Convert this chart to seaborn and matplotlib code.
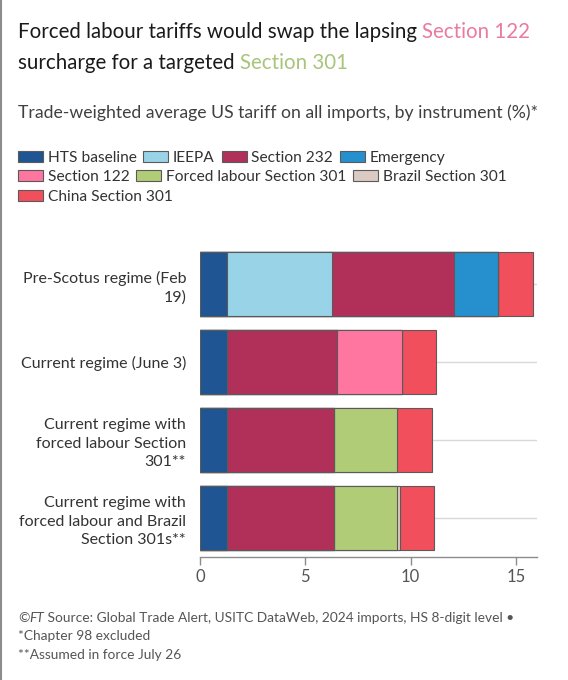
import numpy as np
import pandas as pd
import matplotlib
matplotlib.use("Agg")
import matplotlib.pyplot as plt
import matplotlib.patches as mpatches
import seaborn as sns

# Data
regimes = [
    "Pre-Scotus regime (Feb\n19)",
    "Current regime (June 3)",
    "Current regime with\nforced labour Section\n301**",
    "Current regime with\nforced labour and Brazil\nSection 301s**",
]
instruments = ["HTS baseline", "IEEPA", "Section 232", "Emergency",
               "Section 122", "Forced labour Section 301", "Brazil Section 301",
               "China Section 301"]
hts_baseline = [1.28, 1.28, 1.28, 1.28]
ieepa = [4.98, 0.0, 0.0, 0.0]
section_232 = [5.82, 5.22, 5.10, 5.10]
emergency = [2.09, 0.0, 0.0, 0.0]
section_122 = [0.0, 3.10, 0.0, 0.0]
forced_labour_301 = [0.0, 0.0, 2.99, 2.99]
brazil_301 = [0.0, 0.0, 0.0, 0.13]
china_301 = [1.63, 1.59, 1.64, 1.61]

colors = ["#1f5592", "#98d3e8", "#b03059", "#2590cd",
          "#ff77a1", "#b0cc76", "#d9cbc1", "#f24f5d"]

df = pd.DataFrame({
    "regime": regimes,
    "HTS baseline": hts_baseline,
    "IEEPA": ieepa,
    "Section 232": section_232,
    "Emergency": emergency,
    "Section 122": section_122,
    "Forced labour Section 301": forced_labour_301,
    "Brazil Section 301": brazil_301,
    "China Section 301": china_301,
})
cum = df[instruments].cumsum(axis=1)
cum["regime"] = df["regime"]

sns.set_theme(style="white")
plt.rcParams["font.family"] = ["Lato", "DejaVu Sans"]

W, H = 568, 680
fig = plt.figure(figsize=(W / 100, H / 100), dpi=100)
fig.patch.set_facecolor("white")


def fx(px):
    return px / W


def fy(py):
    return 1 - py / H


ax = fig.add_axes([fx(200), fy(557), fx(537) - fx(200), fy(245) - fy(557)])

# stacked bars: draw cumulative totals from longest to shortest
for name, col in reversed(list(zip(instruments, colors))):
    sns.barplot(data=cum, x=name, y="regime", orient="h", color=col,
                edgecolor="#5a5a5a", linewidth=0.8, width=0.81,
                saturation=1, ax=ax, zorder=3)

ax.set_xlim(0, 16)
ax.set_xticks([0, 5, 10, 15])
ax.set_xlabel("")
ax.set_ylabel("")
ax.grid(axis="y", color="#d9d9d9", linewidth=1, zorder=0)
ax.grid(axis="x", visible=False)
ax.set_axisbelow(True)
for s in ["top", "right", "left"]:
    ax.spines[s].set_visible(False)
ax.spines["bottom"].set_color("#8c8c8c")
ax.spines["bottom"].set_linewidth(1)
ax.tick_params(axis="x", bottom=True, length=6, width=1, color="#8c8c8c",
               labelsize=12, labelcolor="#555555", pad=3)
ax.tick_params(axis="y", left=False, length=0, labelsize=11.5, labelcolor="#333333",
               pad=10)
for lbl in ax.get_yticklabels():
    lbl.set_linespacing(1.42)

# title with coloured key words
fig.canvas.draw()
renderer = fig.canvas.get_renderer()


def colored_line(parts, x, y, size):
    for txt, col, st in parts:
        t = fig.text(x, y, txt, color=col, fontsize=size, va="center", ha="left",
                     style=st)
        bb = t.get_window_extent(renderer=renderer)
        x = x + bb.width / W


colored_line([("Forced labour tariffs would swap the lapsing ", "#1a1a1a", "normal"),
              ("Section 122", "#ea7aa0", "normal")], fx(18), fy(32), 14.8)
colored_line([("surcharge for a targeted ", "#1a1a1a", "normal"),
              ("Section 301", "#a9c47c", "normal")], fx(18), fy(63), 14.8)

fig.text(fx(18), fy(113), "Trade-weighted average US tariff on all imports, by instrument (%)*",
         color="#404040", fontsize=12.7, va="center", ha="left")

# legend in three flowing rows
rows = [[0, 1, 2, 3], [4, 5, 6], [7]]
row_y = [158, 177, 197]
for idxs, py in zip(rows, row_y):
    handles = [mpatches.Patch(facecolor=colors[i], edgecolor="#5a5a5a",
                              linewidth=0.8, label=instruments[i]) for i in idxs]
    fig.legend(handles=handles, loc="center left", bbox_to_anchor=(fx(18), fy(py)),
               ncol=len(idxs), frameon=False, fontsize=11.2, handlelength=1.6,
               handleheight=0.75, handletextpad=0.3, columnspacing=0.45,
               borderaxespad=0, borderpad=0, labelcolor="#333333")

# footer
colored_line([("©", "#555555", "normal"), ("FT", "#555555", "italic"),
              (" Source: Global Trade Alert, USITC DataWeb, 2024 imports, HS 8-digit level •",
               "#555555", "normal")], fx(18), fy(618), 9.9)
fig.text(fx(18), fy(636), "*Chapter 98 excluded", color="#555555", fontsize=9.9, va="center")
fig.text(fx(18), fy(655), "**Assumed in force July 26", color="#555555", fontsize=9.9,
         va="center")

fig.add_artist(plt.Line2D([0.002, 0.002], [0, 1], color="#8c8c8c", linewidth=1.5))

fig.savefig("out.png", dpi=100, facecolor="white")
